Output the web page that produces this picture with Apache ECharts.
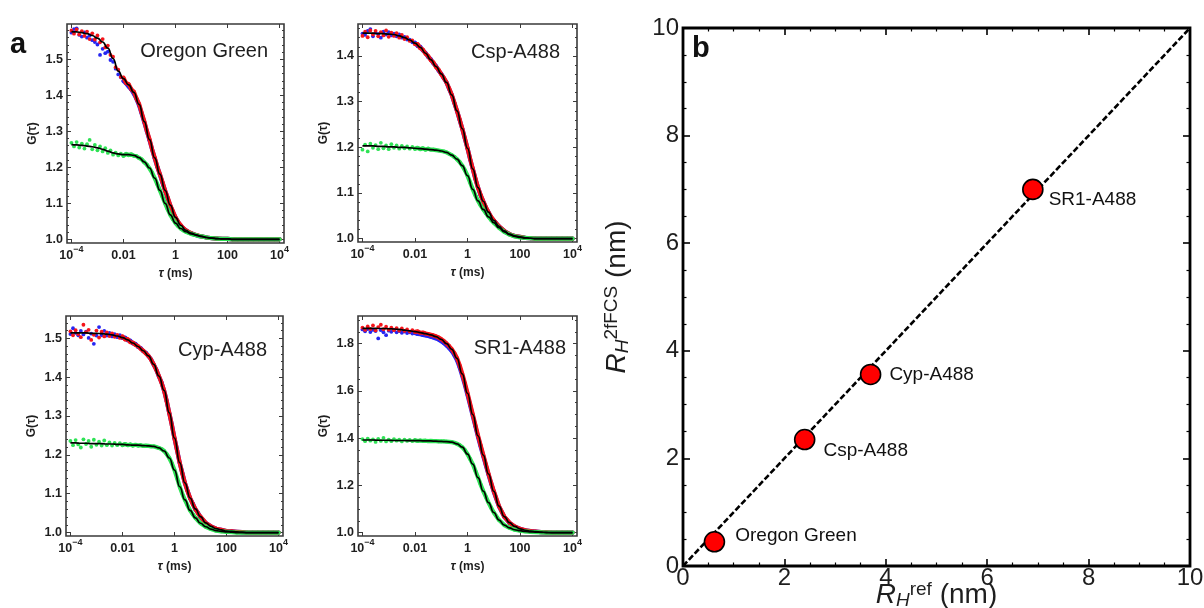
<!DOCTYPE html>
<html>
<head>
<meta charset="utf-8">
<script src="https://cdn.jsdelivr.net/npm/echarts@6/dist/echarts.min.js"></script>
<style>
  html, body { margin: 0; padding: 0; background: #ffffff; }
  #c { width: 1204px; height: 608px; }
</style>
</head>
<body>
<div id="c"></div>
<script>
// ---------- panel a: correlation curves, x = log10(tau / ms) ----------
const tauFit = [-4.0,-3.8,-3.6,-3.4,-3.2,-3.0,-2.8,-2.6,-2.4,-2.2,-2.0,-1.8,-1.6,-1.4,-1.2,-1.0,-0.8,-0.6,-0.4,-0.2,
  0.0,0.2,0.4,0.6,0.8,1.0,1.2,1.4,1.6,1.8,2.0,2.2,2.4,2.6,2.8,3.0,3.2,3.4,3.6,3.8,4.0];
const tauDots = [-4.0,-3.9,-3.8,-3.7,-3.6,-3.5,-3.4,-3.3,-3.2,-3.1,-3.0,-2.9,-2.8,-2.7,-2.6,-2.5,-2.4,-2.3,-2.2,-2.1,
  -2.0,-1.9,-1.8,-1.7,-1.6,-1.5,-1.4,-1.3,-1.2,-1.1,-1.0,-0.9,-0.8,-0.7,-0.6,-0.5,-0.4,-0.3,-0.2,-0.1,
  0.0,0.1,0.2,0.3,0.4,0.5,0.6,0.7,0.8,0.9,1.0,1.2,1.4,1.6,1.8,2.0,2.2,2.4,2.6,2.8,3.0,3.2,3.4,3.6,3.8,4.0];
const tauTicks = [-4, -2, 0, 2, 4];
const tauTickText = ['{b|10}{s|\u22124}', '{b|0.01}', '{b|1}', '{b|100}', '{b|10}{s|4}'];

// Oregon Green
const ogRedFit = [1.577,1.576,1.574,1.571,1.566,1.559,1.548,1.531,1.502,1.467,1.446,1.429,1.408,1.375,1.327,1.277,1.226,1.181,1.136,1.095,
  1.061,1.039,1.025,1.017,1.012,1.008,1.005,1.003,1.002,1.001,1.001,1.000,1.000,1.000,1.000,1.000,1.000,1.000,1.000,1.000,1.000];
const ogGreenFit = [1.263,1.262,1.261,1.259,1.257,1.254,1.250,1.245,1.240,1.237,1.235,1.235,1.233,1.227,1.215,1.198,1.170,1.136,1.100,1.068,
  1.045,1.030,1.021,1.015,1.011,1.008,1.005,1.003,1.002,1.001,1.001,1.000,1.000,1.000,1.000,1.000,1.000,1.000,1.000,1.000,1.000];
const ogRedDots = [1.580,1.571,1.583,1.569,1.578,1.565,1.577,1.556,1.572,1.555,1.566,1.547,1.556,1.533,1.538,1.512,1.507,1.478,1.471,1.451,
  1.449,1.434,1.431,1.417,1.410,1.391,1.376,1.351,1.328,1.301,1.278,1.250,1.227,1.202,1.181,1.159,1.135,1.116,1.094,1.078,
  1.061,1.049,1.039,1.031,1.025,1.021,1.017,1.014,1.012,1.010,1.008,1.005,1.003,1.002,1.001,1.001,1.000,1.000,1.000,1.000,1.000,1.000,1.000,1.000,1.000,1.000];
const ogBlueDots = [1.574,1.584,1.586,1.568,1.563,1.575,1.560,1.566,1.553,1.548,1.541,1.512,1.529,1.517,1.521,1.498,1.493,1.474,1.458,1.450,
  1.440,1.433,1.424,1.416,1.404,1.390,1.372,1.349,1.325,1.300,1.275,1.250,1.225,1.202,1.180,1.157,1.135,1.114,1.094,1.076,
  1.060,1.048,1.038,1.030,1.025,1.020,1.017,1.014,1.011,1.009,1.008,1.005,1.003,1.002,1.001,1.001,1.000,1.000,1.000,1.000,1.000,1.000,1.000,1.000,1.000,1.000];
const ogGreenDots = [1.268,1.258,1.270,1.255,1.266,1.252,1.264,1.276,1.250,1.262,1.247,1.258,1.244,1.253,1.240,1.247,1.235,1.241,1.233,1.238,
  1.232,1.237,1.234,1.236,1.232,1.231,1.226,1.222,1.214,1.207,1.197,1.185,1.170,1.153,1.136,1.118,1.100,1.083,1.068,1.056,
  1.045,1.037,1.030,1.025,1.021,1.018,1.015,1.013,1.011,1.009,1.008,1.005,1.003,1.002,1.001,1.001,1.000,1.000,1.000,1.000,1.000,1.000,1.000,1.000,1.000,1.000];

// Csp-A488
const cspRedFit = [1.450,1.450,1.450,1.449,1.449,1.448,1.447,1.444,1.440,1.435,1.428,1.419,1.406,1.392,1.377,1.361,1.342,1.315,1.280,1.241,
  1.198,1.153,1.112,1.082,1.058,1.040,1.027,1.017,1.010,1.006,1.004,1.002,1.001,1.000,1.000,1.000,1.000,1.000,1.000,1.000,1.000];
const cspGreenFit = [1.203,1.203,1.203,1.202,1.202,1.201,1.201,1.200,1.200,1.199,1.198,1.197,1.196,1.195,1.194,1.192,1.189,1.183,1.174,1.160,
  1.138,1.108,1.083,1.064,1.048,1.035,1.024,1.015,1.009,1.005,1.003,1.002,1.001,1.000,1.000,1.000,1.000,1.000,1.000,1.000,1.000];
const cspRedDots = [1.444,1.453,1.441,1.456,1.447,1.455,1.443,1.452,1.445,1.456,1.442,1.451,1.444,1.450,1.440,1.446,1.437,1.441,1.433,1.434,
  1.426,1.426,1.417,1.414,1.405,1.400,1.391,1.386,1.376,1.370,1.360,1.352,1.342,1.329,1.315,1.298,1.280,1.261,1.241,1.220,
  1.198,1.175,1.153,1.132,1.112,1.096,1.082,1.069,1.058,1.048,1.040,1.027,1.017,1.010,1.006,1.004,1.002,1.001,1.000,1.000,1.000,1.000,1.000,1.000,1.000,1.000];
const cspBlueDots = [1.449,1.446,1.455,1.459,1.443,1.451,1.448,1.440,1.453,1.447,1.452,1.445,1.449,1.443,1.447,1.440,1.442,1.436,1.436,1.430,
  1.429,1.422,1.420,1.412,1.407,1.398,1.393,1.384,1.378,1.368,1.361,1.351,1.342,1.328,1.315,1.297,1.280,1.260,1.241,1.219,
  1.198,1.174,1.153,1.131,1.112,1.095,1.082,1.068,1.058,1.047,1.040,1.027,1.017,1.010,1.006,1.004,1.002,1.001,1.000,1.000,1.000,1.000,1.000,1.000,1.000,1.000];
const cspGreenDots = [1.195,1.206,1.191,1.208,1.199,1.205,1.196,1.210,1.198,1.204,1.196,1.207,1.199,1.204,1.197,1.203,1.198,1.202,1.197,1.201,
  1.197,1.199,1.196,1.198,1.195,1.197,1.195,1.195,1.194,1.193,1.192,1.191,1.189,1.186,1.183,1.179,1.174,1.168,1.160,1.150,
  1.138,1.123,1.108,1.095,1.083,1.073,1.064,1.056,1.048,1.041,1.035,1.024,1.015,1.009,1.005,1.003,1.002,1.001,1.000,1.000,1.000,1.000,1.000,1.000,1.000,1.000];

// Cyp-A488
const cypRedFit = [1.514,1.514,1.514,1.514,1.513,1.513,1.512,1.511,1.509,1.506,1.502,1.496,1.488,1.479,1.468,1.455,1.433,1.403,1.366,1.308,
  1.243,1.180,1.128,1.089,1.061,1.041,1.025,1.016,1.010,1.007,1.004,1.003,1.002,1.001,1.000,1.000,1.000,1.000,1.000,1.000,1.000];
const cypGreenFit = [1.231,1.231,1.230,1.230,1.229,1.229,1.229,1.228,1.228,1.227,1.227,1.226,1.225,1.225,1.224,1.223,1.222,1.218,1.210,1.192,
  1.161,1.118,1.084,1.057,1.038,1.024,1.015,1.009,1.005,1.003,1.002,1.001,1.000,1.000,1.000,1.000,1.000,1.000,1.000,1.000,1.000];
const cypRedDots = [1.518,1.508,1.521,1.511,1.503,1.535,1.516,1.522,1.496,1.509,1.520,1.502,1.517,1.505,1.515,1.506,1.513,1.504,1.509,1.501,
  1.505,1.497,1.498,1.490,1.489,1.483,1.480,1.473,1.468,1.461,1.455,1.445,1.433,1.419,1.403,1.386,1.366,1.338,1.308,1.276,
  1.243,1.211,1.180,1.153,1.128,1.107,1.089,1.074,1.061,1.050,1.041,1.025,1.016,1.010,1.007,1.004,1.003,1.002,1.001,1.000,1.000,1.000,1.000,1.000,1.000,1.000];
const cypBlueDots = [1.511,1.526,1.514,1.508,1.519,1.510,1.517,1.501,1.512,1.486,1.507,1.529,1.508,1.519,1.507,1.514,1.505,1.511,1.503,1.508,
  1.501,1.502,1.495,1.494,1.487,1.486,1.478,1.475,1.467,1.463,1.454,1.446,1.432,1.420,1.402,1.387,1.365,1.339,1.307,1.277,
  1.242,1.212,1.179,1.154,1.127,1.108,1.088,1.075,1.060,1.051,1.040,1.025,1.016,1.010,1.007,1.004,1.003,1.002,1.001,1.000,1.000,1.000,1.000,1.000,1.000,1.000];
const cypGreenDots = [1.236,1.225,1.238,1.227,1.219,1.240,1.228,1.236,1.221,1.239,1.226,1.234,1.224,1.237,1.225,1.232,1.224,1.231,1.225,1.230,
  1.225,1.228,1.225,1.227,1.224,1.226,1.224,1.225,1.223,1.224,1.223,1.222,1.222,1.220,1.218,1.215,1.210,1.202,1.192,1.178,
  1.161,1.140,1.118,1.100,1.084,1.070,1.057,1.047,1.038,1.031,1.024,1.015,1.009,1.005,1.003,1.002,1.001,1.000,1.000,1.000,1.000,1.000,1.000,1.000,1.000,1.000];

// SR1-A488
const srRedFit = [1.865,1.865,1.865,1.864,1.864,1.863,1.862,1.860,1.857,1.854,1.851,1.847,1.842,1.837,1.830,1.818,1.800,1.776,1.738,1.672,
  1.590,1.500,1.410,1.328,1.248,1.175,1.112,1.068,1.042,1.026,1.016,1.010,1.006,1.004,1.002,1.001,1.000,1.000,1.000,1.000,1.000];
const srGreenFit = [1.392,1.392,1.392,1.391,1.391,1.391,1.390,1.390,1.390,1.389,1.389,1.389,1.388,1.388,1.387,1.386,1.385,1.383,1.376,1.362,
  1.332,1.290,1.233,1.176,1.127,1.085,1.053,1.032,1.020,1.012,1.008,1.005,1.003,1.002,1.001,1.000,1.000,1.000,1.000,1.000,1.000];
const srRedDots = [1.868,1.858,1.873,1.862,1.877,1.856,1.870,1.880,1.861,1.872,1.859,1.868,1.857,1.866,1.855,1.864,1.854,1.860,1.851,1.857,
  1.850,1.852,1.846,1.847,1.843,1.841,1.838,1.835,1.831,1.826,1.819,1.811,1.801,1.790,1.777,1.760,1.739,1.709,1.673,1.633,
  1.591,1.546,1.501,1.456,1.411,1.370,1.329,1.289,1.249,1.211,1.176,1.112,1.068,1.042,1.026,1.016,1.010,1.006,1.004,1.002,1.001,1.000,1.000,1.000,1.000,1.000];
const srBlueDots = [1.860,1.852,1.862,1.849,1.858,1.853,1.822,1.857,1.848,1.836,1.855,1.850,1.858,1.848,1.853,1.846,1.851,1.845,1.848,1.843,
  1.845,1.841,1.840,1.837,1.835,1.832,1.829,1.826,1.822,1.817,1.810,1.802,1.792,1.781,1.768,1.751,1.730,1.700,1.664,1.625,
  1.583,1.539,1.494,1.450,1.405,1.364,1.324,1.284,1.245,1.208,1.173,1.110,1.067,1.041,1.025,1.016,1.010,1.006,1.004,1.002,1.001,1.000,1.000,1.000,1.000,1.000];
const srGreenDots = [1.396,1.387,1.398,1.389,1.395,1.384,1.397,1.388,1.401,1.386,1.394,1.387,1.396,1.389,1.393,1.386,1.394,1.388,1.392,1.387,
  1.391,1.388,1.390,1.388,1.389,1.387,1.388,1.387,1.387,1.386,1.386,1.386,1.385,1.384,1.383,1.380,1.376,1.370,1.362,1.349,
  1.332,1.312,1.290,1.262,1.233,1.204,1.176,1.151,1.127,1.105,1.085,1.053,1.032,1.020,1.012,1.008,1.005,1.003,1.002,1.001,1.000,1.000,1.000,1.000,1.000,1.000];

// G(tau) tick values of the four small panels
const gTicksA = [1.0, 1.1, 1.2, 1.3, 1.4, 1.5];
const gTicksB = [1.0, 1.1, 1.2, 1.3, 1.4];
const gTicksC = [1.0, 1.1, 1.2, 1.3, 1.4, 1.5];
const gTicksD = [1.0, 1.2, 1.4, 1.6, 1.8];

// ---------- panel b: hydrodynamic radii ----------
const sampleNames = ['Oregon Green', 'Csp-A488', 'Cyp-A488', 'SR1-A488'];
const rhRef = [0.62, 2.4, 3.7, 6.9];
const rh2fFCS = [0.45, 2.35, 3.56, 7.0];
const identityLine = [[0, 0], [10, 10]];

// ---------- drawing ----------
const FONT = '"Liberation Sans", Arial, Helvetica, sans-serif';
const INK = '#1e1e1e';
const FRAME = '#3a3a3a';
const RED = '#f5141a', BLUE = '#2626f2', GREEN = '#2ee255';
const BAND_FROM = 20; // data joined into a continuous band from tau = 0.01 ms on

const pair = (xs, ys) => xs.map((x, i) => [x, ys[i]]);

const panels = [
  { title: 'Oregon Green', grid: { left: 67, top: 24, width: 217, height: 219 }, yMin: 0.9897, yMax: 1.598,
    ticks: gTicksA, minorStep: 0.02, titleX: 268, titleY: 51,
    redFit: ogRedFit, greenFit: ogGreenFit, red: ogRedDots, blue: ogBlueDots, green: ogGreenDots },
  { title: 'Csp-A488', grid: { left: 358, top: 24, width: 219, height: 218 }, yMin: 0.9928, yMax: 1.470,
    ticks: gTicksB, minorStep: 0.02, titleX: 560, titleY: 52,
    redFit: cspRedFit, greenFit: cspGreenFit, red: cspRedDots, blue: cspBlueDots, green: cspGreenDots },
  { title: 'Cyp-A488', grid: { left: 66, top: 316, width: 217, height: 220 }, yMin: 0.9912, yMax: 1.5575,
    ticks: gTicksC, minorStep: 0.02, titleX: 267, titleY: 350,
    redFit: cypRedFit, greenFit: cypGreenFit, red: cypRedDots, blue: cypBlueDots, green: cypGreenDots },
  { title: 'SR1-A488', grid: { left: 358, top: 316, width: 219, height: 220 }, yMin: 0.9856, yMax: 1.917,
    ticks: gTicksD, minorStep: 0.05, titleX: 566, titleY: 348,
    redFit: srRedFit, greenFit: srGreenFit, red: srRedDots, blue: srBlueDots, green: srGreenDots }
];

const grids = [], xAxes = [], yAxes = [], series = [], graphics = [];

const smallTick = (vals, len) => ({ show: true, inside: true, length: len, customValues: vals,
  lineStyle: { color: FRAME, width: 1 } });
const noLine = { show: false, onZero: false };

panels.forEach((p, gi) => {
  grids.push(Object.assign({ show: true, borderColor: FRAME, borderWidth: 1.6, backgroundColor: 'transparent',
    containLabel: false, outerBoundsMode: 'none' }, p.grid));

  const minors = [];
  for (let v = p.ticks[0]; v < p.yMax; v += p.minorStep) {
    const r = Math.round(v * 1000) / 1000;
    if (!p.ticks.some(t => Math.abs(t - r) < 1e-6) && r > p.yMin) minors.push(r);
  }

  const xi = xAxes.length;
  xAxes.push({
    gridIndex: gi, type: 'value', min: -4.17, max: 4.17, position: 'bottom',
    axisLine: noLine, splitLine: { show: false }, axisTick: smallTick(tauTicks, 4),
    axisLabel: {
      customValues: tauTicks, margin: 2,
      formatter: v => tauTickText[tauTicks.findIndex(t => Math.abs(t - v) < 1e-6)] || '',
      rich: {
        b: { fontFamily: FONT, fontSize: 12.5, fontWeight: 'bold', color: INK, lineHeight: 17, verticalAlign: 'bottom' },
        s: { fontFamily: FONT, fontSize: 9, fontWeight: 'bold', color: INK, lineHeight: 10, verticalAlign: 'top' }
      }
    },
    name: '{i|\u03c4} (ms)', nameLocation: 'middle', nameGap: 24,
    nameTextStyle: { fontFamily: FONT, fontSize: 12, fontWeight: 'bold', color: INK,
      rich: { i: { fontFamily: FONT, fontSize: 12.5, fontWeight: 'bold', fontStyle: 'italic', color: INK } } }
  });
  xAxes.push({
    gridIndex: gi, type: 'value', min: -4.17, max: 4.17, position: 'top',
    axisLine: noLine, splitLine: { show: false }, axisTick: smallTick(tauTicks, 4), axisLabel: { show: false }
  });

  const yi = yAxes.length;
  yAxes.push({
    gridIndex: gi, type: 'value', min: p.yMin, max: p.yMax, position: 'left',
    axisLine: noLine, splitLine: { show: false }, axisTick: smallTick(p.ticks, 4),
    axisLabel: { customValues: p.ticks, margin: 4, formatter: v => v.toFixed(1),
      fontFamily: FONT, fontSize: 12.5, fontWeight: 'bold', color: INK },
    name: 'G(\u03c4)', nameLocation: 'middle', nameGap: 28,
    nameTextStyle: { fontFamily: FONT, fontSize: 12, fontWeight: 'bold', color: INK }
  });
  yAxes.push({ gridIndex: gi, type: 'value', min: p.yMin, max: p.yMax, position: 'right',
    axisLine: noLine, splitLine: { show: false }, axisTick: smallTick(p.ticks, 4), axisLabel: { show: false } });
  yAxes.push({ gridIndex: gi, type: 'value', min: p.yMin, max: p.yMax, position: 'left',
    axisLine: noLine, splitLine: { show: false }, axisTick: smallTick(minors, 2), axisLabel: { show: false } });
  yAxes.push({ gridIndex: gi, type: 'value', min: p.yMin, max: p.yMax, position: 'right',
    axisLine: noLine, splitLine: { show: false }, axisTick: smallTick(minors, 2), axisLabel: { show: false } });

  // measured points: dots everywhere, joined into a band where they are dense
  const band = (vals, color, z) => ({
    type: 'line', xAxisIndex: xi, yAxisIndex: yi, data: pair(tauDots, vals).slice(BAND_FROM),
    symbol: 'none', lineStyle: { color, width: 4.2, cap: 'round', join: 'round' }, silent: true, z
  });
  const dots = (vals, color, z) => ({
    type: 'scatter', xAxisIndex: xi, yAxisIndex: yi, data: pair(tauDots, vals), symbol: 'circle', symbolSize: 3.8,
    itemStyle: { color, opacity: 1 }, silent: true, z
  });
  const fit = vals => ({
    type: 'line', xAxisIndex: xi, yAxisIndex: yi, data: pair(tauFit, vals), symbol: 'none', smooth: 0.5,
    smoothMonotone: 'x', lineStyle: { color: '#000', width: 1.7 }, silent: true, z: 5
  });
  series.push(band(p.blue, BLUE, 1), dots(p.blue, BLUE, 1));
  series.push(band(p.red, RED, 2), dots(p.red, RED, 2));
  series.push(band(p.green, GREEN, 3), dots(p.green, GREEN, 3));
  series.push(fit(p.redFit), fit(p.greenFit));

  graphics.push({ type: 'text', x: p.titleX, y: p.titleY, silent: true,
    style: { text: p.title, textAlign: 'right', textVerticalAlign: 'middle', fontFamily: FONT, fontSize: 20, fill: INK } });
});

// panel b
const gb = grids.length;
grids.push({ left: 683, top: 28, width: 507, height: 538, show: true, borderColor: '#000', borderWidth: 2.8,
  backgroundColor: 'transparent', containLabel: false, outerBoundsMode: 'none' });

const bigTick = { show: true, inside: true, length: 7, lineStyle: { color: '#000', width: 1.6 } };
const bigMinor = { show: true, splitNumber: 4, length: 3.5, lineStyle: { color: '#000', width: 1.2 } };
const bigLabel = { fontFamily: FONT, fontSize: 24, color: INK };
const titleRich = {
  r: { fontFamily: FONT, fontSize: 28, fontStyle: 'italic', color: INK, lineHeight: 30, verticalAlign: 'middle' },
  h: { fontFamily: FONT, fontSize: 19, fontStyle: 'italic', color: INK, lineHeight: 22, verticalAlign: 'bottom' },
  s: { fontFamily: FONT, fontSize: 19, color: INK, lineHeight: 19, verticalAlign: 'top' },
  n: { fontFamily: FONT, fontSize: 28, color: INK, lineHeight: 30, verticalAlign: 'middle' }
};

const bx = xAxes.length;
xAxes.push({
  gridIndex: gb, type: 'value', min: 0, max: 10, interval: 2, position: 'bottom',
  axisLine: noLine, splitLine: { show: false }, axisTick: bigTick, minorTick: bigMinor,
  axisLabel: Object.assign({ margin: 0 }, bigLabel),
  name: '{r|R}{h|H}{s|ref}{n| (nm)}', nameLocation: 'middle', nameGap: 14, nameMoveOverlap: false,
  nameTextStyle: { rich: titleRich }
});
xAxes.push({ gridIndex: gb, type: 'value', min: 0, max: 10, interval: 2, position: 'top',
  axisLine: noLine, splitLine: { show: false }, axisTick: bigTick, minorTick: bigMinor, axisLabel: { show: false } });

const by = yAxes.length;
yAxes.push({
  gridIndex: gb, type: 'value', min: 0, max: 10, interval: 2, position: 'left',
  axisLine: noLine, splitLine: { show: false }, axisTick: bigTick, minorTick: bigMinor,
  axisLabel: Object.assign({ margin: 4 }, bigLabel),
  name: '{r|R}{h|H}{s|2fFCS}{n| (nm)}', nameLocation: 'middle', nameGap: 51,
  nameTextStyle: { rich: titleRich }
});
yAxes.push({ gridIndex: gb, type: 'value', min: 0, max: 10, interval: 2, position: 'right',
  axisLine: noLine, splitLine: { show: false }, axisTick: bigTick, minorTick: bigMinor, axisLabel: { show: false } });

series.push({
  type: 'line', xAxisIndex: bx, yAxisIndex: by, data: identityLine, symbol: 'none', silent: true, z: 3,
  lineStyle: { color: '#000', width: 2.6, type: [6, 2.5] }
});

const labelPlacement = [
  { distance: 10, offset: [0, -6] },
  { distance: 8, offset: [0, 11] },
  { distance: 8, offset: [0, 0] },
  { distance: 5, offset: [0, 10] }
];
series.push({
  type: 'scatter', xAxisIndex: bx, yAxisIndex: by, symbol: 'circle', symbolSize: 20, z: 4, silent: true,
  itemStyle: { color: '#ff0000', borderColor: '#000', borderWidth: 1.6, opacity: 1 },
  data: rhRef.map((x, i) => ({
    value: [x, rh2fFCS[i]], name: sampleNames[i],
    label: Object.assign({ show: true, position: 'right', formatter: '{b}',
      fontFamily: FONT, fontSize: 19, color: '#111', opacity: 1, textBorderWidth: 0 }, labelPlacement[i])
  }))
});

graphics.push({ type: 'text', x: 10, y: 45, silent: true,
  style: { text: 'a', textAlign: 'left', textVerticalAlign: 'middle', fontFamily: FONT, fontSize: 29, fontWeight: 'bold', fill: '#111' } });
graphics.push({ type: 'text', x: 692, y: 49, silent: true,
  style: { text: 'b', textAlign: 'left', textVerticalAlign: 'middle', fontFamily: FONT, fontSize: 29, fontWeight: 'bold', fill: '#111' } });

const chart = echarts.init(document.getElementById('c'), null, { renderer: 'canvas' });
chart.setOption({
  animation: false,
  backgroundColor: '#ffffff',
  textStyle: { fontFamily: FONT },
  grid: grids,
  xAxis: xAxes,
  yAxis: yAxes,
  series: series,
  graphic: graphics
});
</script>
</body>
</html>
